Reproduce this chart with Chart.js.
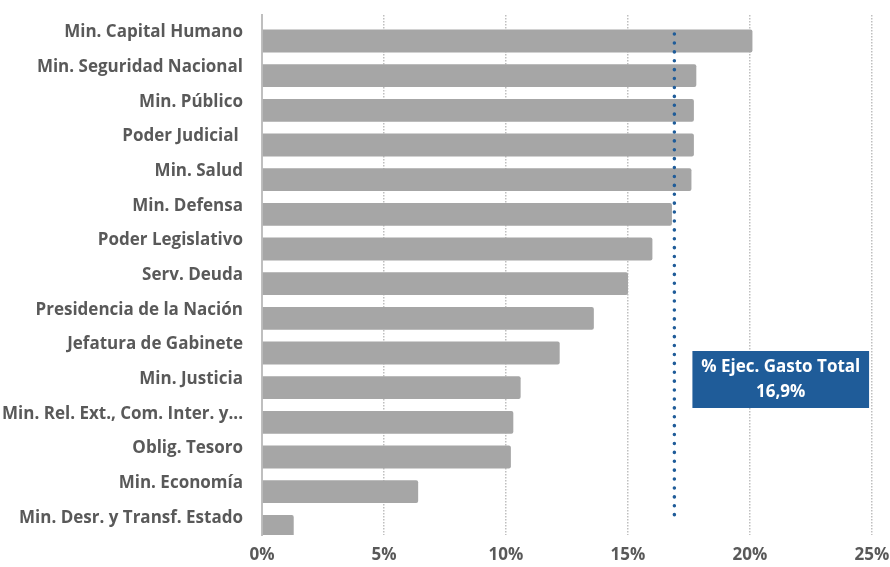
<!DOCTYPE html>
<html>
<head>
<meta charset="utf-8">
<script src="https://cdn.jsdelivr.net/npm/chart.js@4.4.1/dist/chart.umd.min.js"></script>
<style>
  html, body { margin: 0; padding: 0; background: #fff; }
  #wrap { width: 890px; height: 567px; }
</style>
</head>
<body>
<div id="wrap"><canvas id="execChart"></canvas></div>
<script>
const categories = [
  "Min. Capital Humano",
  "Min. Seguridad Nacional",
  "Min. Público",
  "Poder Judicial ",
  "Min. Salud",
  "Min. Defensa",
  "Poder Legislativo",
  "Serv. Deuda",
  "Presidencia de la Nación",
  "Jefatura de Gabinete",
  "Min. Justicia",
  "Min. Rel. Ext., Com. Inter. y...",
  "Oblig. Tesoro",
  "Min. Economía",
  "Min. Desr. y Transf. Estado",
];
const execution = [20.1, 17.8, 17.7, 17.7, 17.6, 16.8, 16.0, 15.0, 13.6, 12.2, 10.6, 10.3, 10.2, 6.4, 1.3];
// empty series, keeps the grey bars in the lower half of each row like the original
const emptySlot = categories.map(() => null);
const totalExecution = 16.9;
const xTicks = [0, 5, 10, 15, 20, 25];

const labelFont = "'Open Sans', Lato, sans-serif";

// dotted average line + label box
const totalLine = {
  id: "totalLine",
  afterDatasetsDraw(chart) {
    const { ctx, chartArea, scales } = chart;
    const x = scales.x.getPixelForValue(totalExecution);
    ctx.save();
    ctx.strokeStyle = "#1F5C99";
    ctx.lineWidth = 3.5;
    ctx.lineCap = "round";
    ctx.setLineDash([0.1, 8.8]);
    ctx.beginPath();
    ctx.moveTo(x, chartArea.top + 19);
    ctx.lineTo(x, chartArea.bottom - 18);
    ctx.stroke();
    ctx.setLineDash([]);

    const left = scales.x.getPixelForValue(17.64);
    const right = scales.x.getPixelForValue(24.88);
    const cy = scales.y.getPixelForValue(10);
    ctx.fillStyle = "#1F5C99";
    ctx.fillRect(left, cy - 28, right - left, 57);
    ctx.fillStyle = "#fff";
    ctx.font = "bold 17px " + labelFont;
    ctx.textAlign = "center";
    ctx.textBaseline = "middle";
    ctx.fillText("% Ejec. Gasto Total", (left + right) / 2, cy - 12);
    ctx.fillText(totalExecution.toFixed(1).replace(".", ",") + "%", (left + right) / 2, cy + 13);
    ctx.restore();
  },
};

const ctx = document.getElementById("execChart").getContext("2d");

new Chart(ctx, {
  type: "bar",
  data: {
    labels: categories,
    datasets: [
      {
        data: emptySlot,
        backgroundColor: "rgba(0,0,0,0)",
        categoryPercentage: 1,
        barPercentage: 1,
      },
      {
        data: execution,
        backgroundColor: "#A6A6A6",
        borderRadius: 2,
        borderSkipped: "start",
        categoryPercentage: 1,
        barPercentage: 1.32,
      },
    ],
  },
  options: {
    indexAxis: "y",
    responsive: true,
    maintainAspectRatio: false,
    animation: false,
    layout: { padding: { top: 15, right: 18, bottom: 0, left: 0 } },
    plugins: {
      legend: { display: false },
      tooltip: { enabled: false },
    },
    scales: {
      x: {
        min: 0,
        max: 25,
        afterBuildTicks: (scale) => {
          scale.ticks = xTicks.map((v) => ({ value: v }));
        },
        afterFit: (scale) => {
          scale.height = 32;
          scale.paddingLeft = 0;
          scale.paddingRight = 0;
        },
        border: { display: false, dash: [1.5, 1.5] },
        grid: {
          drawTicks: false,
          color: (c) => (c.tick.value === 0 ? "rgba(0,0,0,0)" : "#BFBFBF"),
          lineWidth: 1.5,
        },
        ticks: {
          padding: 10,
          color: "#595959",
          font: { family: labelFont, size: 17, weight: "bold" },
          callback: (v) => v + "%",
        },
      },
      y: {
        afterFit: (scale) => {
          scale.width = 262;
          scale.paddingTop = 0;
          scale.paddingBottom = 0;
        },
        border: { display: true, color: "#BFBFBF", width: 2 },
        grid: { display: false, drawTicks: false },
        ticks: {
          padding: 19,
          color: "#595959",
          autoSkip: false,
          font: { family: labelFont, size: 17, weight: "bold" },
        },
      },
    },
  },
  plugins: [totalLine],
});
</script>
</body>
</html>
